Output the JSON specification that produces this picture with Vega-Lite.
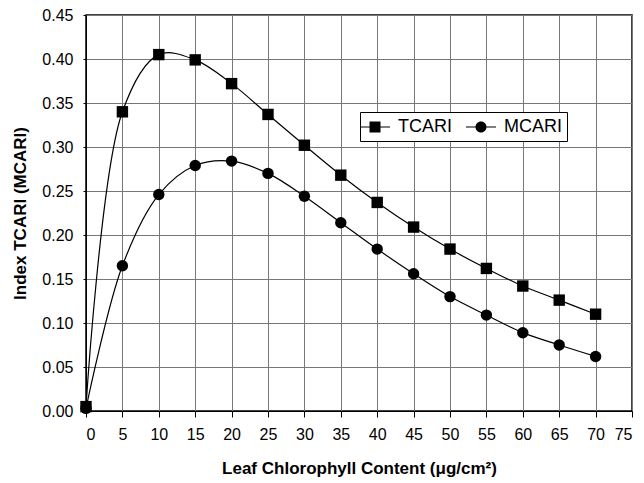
{
  "$schema": "https://vega.github.io/schema/vega-lite/v6.json",
  "width": 546,
  "height": 396,
  "autosize": "none",
  "padding": {"left": 86, "top": 15, "right": 12, "bottom": 72},
  "background": "white",
  "config": {
    "font": "Liberation Sans",
    "view": {"stroke": "black", "strokeWidth": 1.5}
  },
  "data": {
    "values": [
      {"x": 0, "s": "TCARI", "y": 0.005},
      {"x": 5, "s": "TCARI", "y": 0.340},
      {"x": 10, "s": "TCARI", "y": 0.405},
      {"x": 15, "s": "TCARI", "y": 0.399},
      {"x": 20, "s": "TCARI", "y": 0.372},
      {"x": 25, "s": "TCARI", "y": 0.337},
      {"x": 30, "s": "TCARI", "y": 0.302},
      {"x": 35, "s": "TCARI", "y": 0.268},
      {"x": 40, "s": "TCARI", "y": 0.237},
      {"x": 45, "s": "TCARI", "y": 0.209},
      {"x": 50, "s": "TCARI", "y": 0.184},
      {"x": 55, "s": "TCARI", "y": 0.162},
      {"x": 60, "s": "TCARI", "y": 0.142},
      {"x": 65, "s": "TCARI", "y": 0.126},
      {"x": 70, "s": "TCARI", "y": 0.110},
      {"x": 0, "s": "MCARI", "y": 0.003},
      {"x": 5, "s": "MCARI", "y": 0.165},
      {"x": 10, "s": "MCARI", "y": 0.246},
      {"x": 15, "s": "MCARI", "y": 0.279},
      {"x": 20, "s": "MCARI", "y": 0.284},
      {"x": 25, "s": "MCARI", "y": 0.270},
      {"x": 30, "s": "MCARI", "y": 0.244},
      {"x": 35, "s": "MCARI", "y": 0.214},
      {"x": 40, "s": "MCARI", "y": 0.184},
      {"x": 45, "s": "MCARI", "y": 0.156},
      {"x": 50, "s": "MCARI", "y": 0.130},
      {"x": 55, "s": "MCARI", "y": 0.109},
      {"x": 60, "s": "MCARI", "y": 0.089},
      {"x": 65, "s": "MCARI", "y": 0.075},
      {"x": 70, "s": "MCARI", "y": 0.062}
    ]
  },
  "encoding": {
    "x": {
      "field": "x", "type": "quantitative",
      "scale": {"domain": [0, 75], "nice": false},
      "axis": {
        "title": "Leaf Chlorophyll Content (μg/cm²)",
        "titleFontSize": 17, "titleFontWeight": "bold", "titleColor": "black", "titlePadding": 18,
        "values": [0,5,10,15,20,25,30,35,40,45,50,55,60,65,70,75],
        "labelFontSize": 16, "labelColor": "black", "labelPadding": 9,
        "tickColor": "black", "tickSize": 6, "domainColor": "black",
        "grid": true, "gridColor": "#777", "gridWidth": 1
      }
    },
    "y": {
      "field": "y", "type": "quantitative",
      "scale": {"domain": [0, 0.45], "nice": false},
      "axis": {
        "title": "Index TCARI (MCARI)",
        "titleFontSize": 17, "titleFontWeight": "bold", "titleColor": "black", "titlePadding": 12,
        "values": [0,0.05,0.1,0.15,0.2,0.25,0.3,0.35,0.4,0.45],
        "format": ".2f",
        "labelFontSize": 16, "labelColor": "black", "labelPadding": 10,
        "tickColor": "black", "tickSize": 3, "domainColor": "black",
        "grid": true, "gridColor": "#777", "gridWidth": 1
      }
    },
    "detail": {"field": "s"}
  },
  "resolve": {"scale": {"shape": "independent"}},
  "layer": [
    {
      "mark": {"type": "line", "interpolate": "catmull-rom", "color": "black", "strokeWidth": 1.2}
    },
    {
      "mark": {"type": "point", "filled": true, "opacity": 1, "color": "black", "size": 130},
      "encoding": {
        "shape": {
          "field": "s", "type": "nominal",
          "scale": {"domain": ["TCARI", "MCARI"], "range": ["square", "circle"]},
          "legend": null
        }
      }
    },
    {
      "mark": {"type": "point", "filled": true, "opacity": 0, "color": "black", "size": 130},
      "encoding": {
        "shape": {
          "field": "s", "type": "nominal",
          "scale": {"domain": ["TCARI", "MCARI"], "range": ["M-1.5,-0.06H-0.5V0.06H-1.5Z M0.5,-0.06H1.5V0.06H0.5Z M-0.55,-0.55H0.55V0.55H-0.55Z", "M-1.5,-0.06H-0.5V0.06H-1.5Z M0.5,-0.06H1.5V0.06H0.5Z M0.55,0A0.55,0.55 0 1,1 -0.55,0A0.55,0.55 0 1,1 0.55,0Z"]},
          "legend": {
            "title": null,
            "orient": "none",
            "legendX": 274,
            "legendY": 97,
            "direction": "horizontal",
            "columns": 2,
            "labelFontSize": 18,
            "labelColor": "black",
            "symbolSize": 400,
            "symbolOpacity": 1,
            "symbolFillColor": "black",
            "symbolStrokeColor": "black",
            "symbolStrokeWidth": 0,
            "labelOffset": 13,
            "columnPadding": 14,
            "padding": 5,
            "strokeColor": "black",
            "fillColor": "white"
          }
        }
      }
    }
  ]
}
